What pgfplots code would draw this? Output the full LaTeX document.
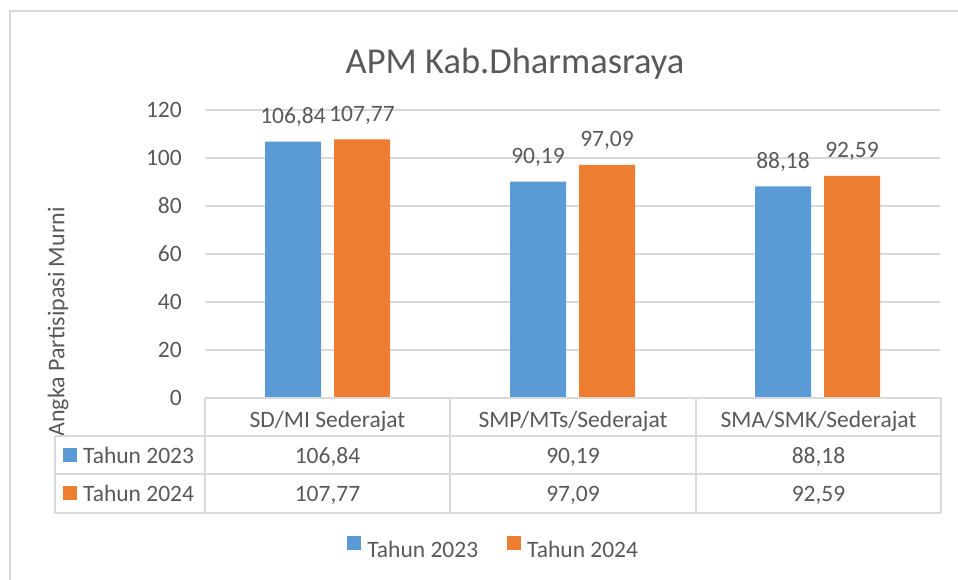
\documentclass[border=0pt]{standalone}
\usepackage{pgfplots}
\pgfplotsset{compat=1.18}
\usepackage{fontspec}
\setmainfont{Carlito}
\definecolor{cblue}{HTML}{5B9BD5}
\definecolor{corange}{HTML}{ED7D31}
\definecolor{txt}{HTML}{595959}
\definecolor{gridc}{HTML}{D9D9D9}
\newcommand{\fz}{\fontsize{23.5}{28}\selectfont}
\begin{document}
\begin{tikzpicture}[x=1pt,y=1pt]
\path[use as bounding box] (0,0) rectangle (958,-580);
% chart frame
\draw[gridc, line width=1.5pt] (10,-700) -- (10,-11) -- (1100,-11);
% title
\node[txt, font=\fontsize{36.5}{42}\selectfont, anchor=base] at (515,-74) {APM Kab.Dharmasraya};
% y label
\node[txt, font=\fontsize{24}{28}\selectfont, rotate=90, anchor=center] at (58,-322) {Angka Partisipasi Murni};
\begin{axis}[
  at={(205pt,-398pt)}, anchor=south west, scale only axis,
  width=735pt, height=288pt,
  xmin=-0.5, xmax=2.5, ymin=0, ymax=120,
  ytick={0,20,...,120}, xtick=\empty,
  ymajorgrids, grid style={color=gridc, line width=1.3pt},
  axis line style={draw=none}, major tick length=0pt,
  /pgf/number format/assume math mode=true,
  tick label style={font=\fz, text=txt},
  yticklabel style={inner sep=0pt, xshift=-23pt},
  ybar, bar width=56pt, clip=false,
  nodes near coords={\pgfmathprintnumber[use comma,fixed,fixed zerofill,precision=2,assume math mode=true]{\pgfplotspointmeta}},
  every node near coord/.append style={anchor=base, inner sep=0pt, yshift=18pt, font=\fz, text=txt},
  legend image code/.code={\fill[#1] (0pt,0pt) rectangle (14pt,14pt); \path (17pt,0pt);},
  legend style={at={(0.3935,-0.524)}, anchor=center, draw=none, fill=none,
    legend columns=2, font=\fz, text=txt,
    nodes={inner sep=3pt},
    /tikz/every even column/.append style={column sep=26pt}},
]
\addplot[fill=cblue, draw=none, bar shift=-34.5pt] coordinates {(0,106.84) (1,90.19) (2,88.18)};
\addplot[fill=corange, draw=none, bar shift=34.5pt] coordinates {(0,107.77) (1,97.09) (2,92.59)};
\legend{Tahun 2023, Tahun 2024}
\end{axis}
% data table
\begin{scope}[gridc, line width=1.5pt]
\draw (205,-398) -- (941,-398);
\draw (55,-436) -- (941,-436);
\draw (55,-474) -- (941,-474);
\draw (55,-513) -- (941,-513);
\draw (55,-436) -- (55,-513);
\draw (205,-398) -- (205,-513);
\draw (450,-398) -- (450,-513);
\draw (696,-398) -- (696,-513);
\draw (941,-398) -- (941,-513);
\end{scope}
\begin{scope}[txt, font=\fz]
\node[anchor=base] at (327.5,-427) {SD/MI Sederajat};
\node[anchor=base] at (573,-427) {SMP/MTs/Sederajat};
\node[anchor=base] at (818.5,-427) {SMA/SMK/Sederajat};
\node[anchor=base] at (327.5,-463) {106,84};
\node[anchor=base] at (573,-463) {90,19};
\node[anchor=base] at (818.5,-463) {88,18};
\node[anchor=base] at (327.5,-501) {107,77};
\node[anchor=base] at (573,-501) {97,09};
\node[anchor=base] at (818.5,-501) {92,59};
\fill[cblue] (63,-462) rectangle (77,-448);
\fill[corange] (63,-500) rectangle (77,-486);
\node[anchor=base west, inner sep=0pt] at (83,-463) {Tahun 2023};
\node[anchor=base west, inner sep=0pt] at (83,-501) {Tahun 2024};
\end{scope}
\end{tikzpicture}
\end{document}
